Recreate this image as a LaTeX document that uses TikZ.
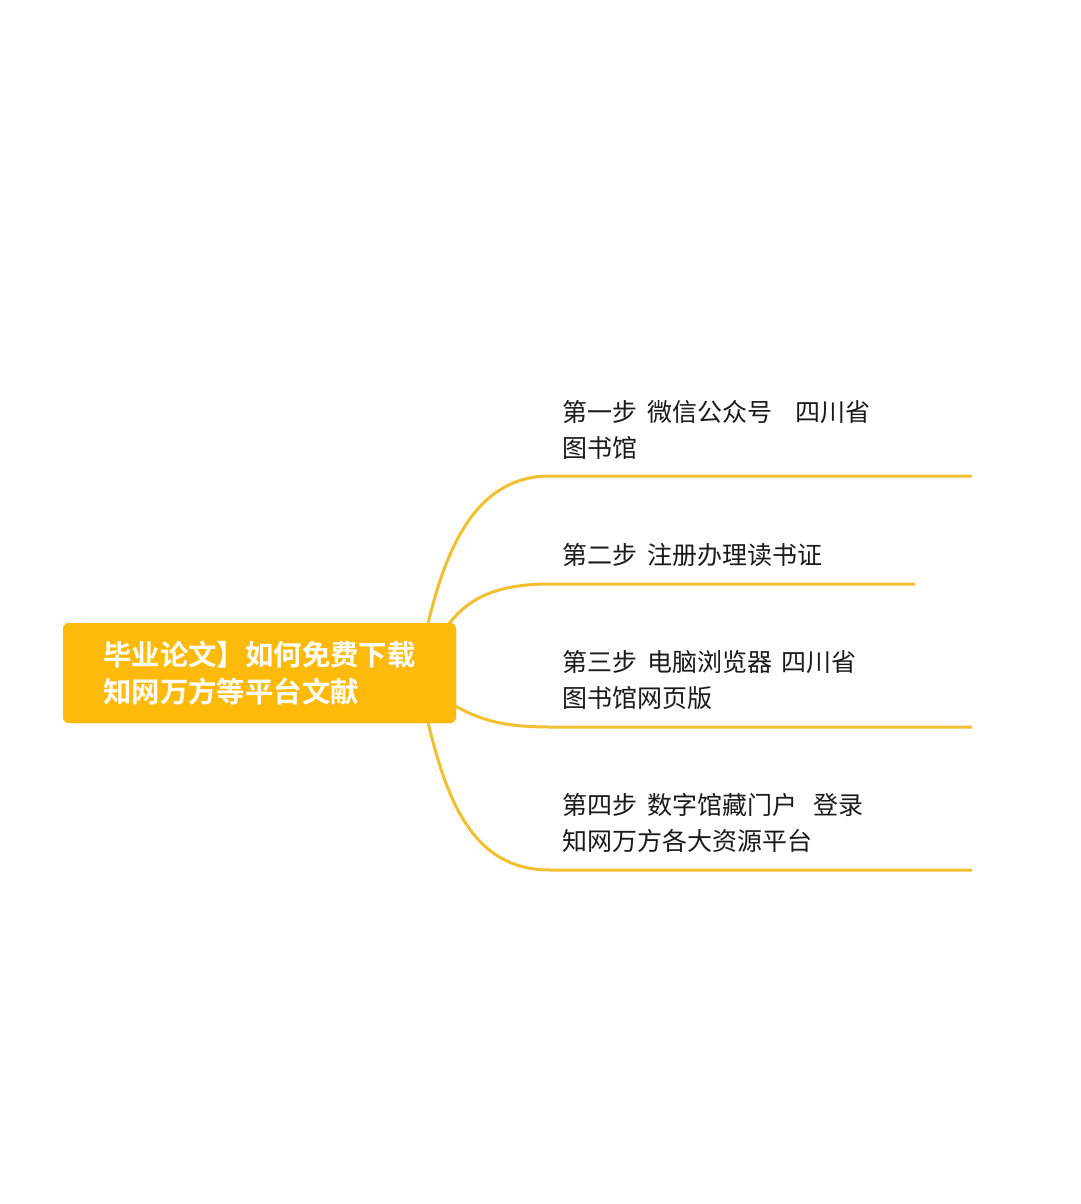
\documentclass[tikz,border=0pt]{standalone}
\usepackage{fontspec}
\newfontfamily\cjk{Noto Sans CJK SC}
\newfontfamily\cjkb{Noto Sans CJK SC Bold}
\definecolor{rootfill}{HTML}{FDBA0A}
\definecolor{branchline}{HTML}{F0C030}
\definecolor{txt}{HTML}{1A1A1A}
\newcommand{\wsp}{\hspace{10pt}}
\begin{document}
\begin{tikzpicture}[x=1pt,y=-1pt,
  rootbox/.style={fill=rootfill,rounded corners=6pt,minimum width=393pt,minimum height=100pt,
    inner sep=0pt,text=white,align=left,font=\cjkb\fontsize{28.4}{37}\selectfont},
  steptext/.style={anchor=west,inner sep=0pt,align=left,text=txt,font=\cjk\fontsize{25}{36}\selectfont},
  branch/.style={draw=branchline,line width=3pt}]
\useasboundingbox (0,0) rectangle (1080,1204);
\fill[white] (0,0) rectangle (1080,1204);

\node[rootbox] (root) at (259.5,673) {毕业论文】如何免费下载\\知网万方等平台文献};

\node[steptext] (t1) at (562,429.5) {第一步\wsp 微信公众号\hspace{23pt}四川省\\图书馆};
\node[steptext] (t2) at (562,555) {第二步\wsp 注册办理读书证};
\node[steptext] (t3) at (562,679.5) {第三步\wsp 电脑浏览器\hspace{9pt}四川省\\图书馆网页版};
\node[steptext] (t4) at (562,823) {第四步\wsp 数字馆藏门户\hspace{16pt}登录\\知网万方各大资源平台};

\coordinate (a1) at (550,476);  \coordinate (e1) at (972,476);
\coordinate (a2) at (550,584);  \coordinate (e2) at (915,584);
\coordinate (a3) at (550,727);  \coordinate (e3) at (972,727);
\coordinate (a4) at (550,870);  \coordinate (e4) at (972,870);

\draw[branch] ([xshift=-28pt]root.north east) .. controls (448,540) and (480,476) .. (a1) -- (e1);
\draw[branch] ([xshift=-8pt,yshift=-2pt]root.north east) .. controls (470,596) and (500,584) .. (a2) -- (e2);
\draw[branch] ([xshift=-2pt,yshift=18pt]root.south east) .. controls (482,722) and (510,727) .. (a3) -- (e3);
\draw[branch] ([xshift=-28pt]root.south east) .. controls (448,805) and (475,870) .. (a4) -- (e4);

\node[rootbox] at (root.center) {毕业论文】如何免费下载\\知网万方等平台文献};
\end{tikzpicture}
\end{document}
